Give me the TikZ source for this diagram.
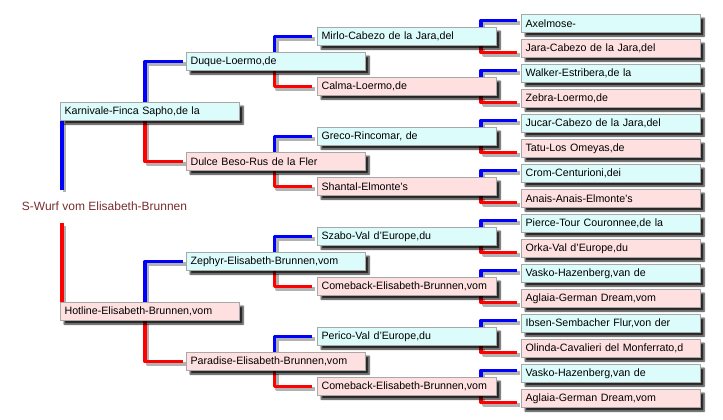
\documentclass[tikz,border=0pt]{standalone}
\usepackage{fontspec}
\setmainfont{Liberation Sans}
\usetikzlibrary{shadows.blur}
\definecolor{cy}{RGB}{220,252,252}
\definecolor{pk}{RGB}{255,224,224}
\definecolor{bd}{RGB}{168,168,168}
\definecolor{rootc}{RGB}{122,45,45}
\pgfdeclarelayer{bg}
\pgfsetlayers{bg,main}
\newcommand{\cn}[2]{\draw[sh] #2; \draw[#1] #2;}
\begin{document}
\begin{tikzpicture}[x=1pt,y=-1pt,
  box/.style={draw=bd, line width=1.2pt, anchor=north west, text width=171pt,
    inner xsep=4pt, inner ysep=0pt, minimum height=18pt, align=left,
    font=\fontsize{10.67}{12}\selectfont, text=black,
    blur shadow={shadow xshift=3.5pt, shadow yshift=-3.5pt, shadow blur steps=6,
      shadow opacity=85, shadow blur radius=1.5pt}},
  m/.style={box, fill=cy},
  f/.style={box, fill=pk},
  ln/.style={line width=3.5pt, line join=round, line cap=butt},
  bl/.style={ln, draw=blue},
  rd/.style={ln, draw=red},
  sh/.style={ln, draw=black, opacity=0.3, transform canvas={xshift=2.5pt,yshift=-2.5pt}}]
\useasboundingbox (0,0) rectangle (723,420);

% root
\node (root) [text=rootc, font=\fontsize{12}{14}\selectfont, minimum height=33pt, inner sep=0pt] at (104.5,206.5) {S-Wurf vom Elisabeth-Brunnen};

% generation 1
\node (karn) [m] at (60,102) {Karnivale-Finca Sapho,de la};
\node (hot)  [f] at (60,302) {Hotline-Elisabeth-Brunnen,vom};

% generation 2
\node (duque) [m] at (186,52)  {Duque-Loermo,de};
\node (dulce) [f] at (186,152) {Dulce Beso-Rus de la Fler};
\node (zeph)  [m] at (186,252) {Zephyr-Elisabeth-Brunnen,vom};
\node (para)  [f] at (186,352) {Paradise-Elisabeth-Brunnen,vom};

% generation 3
\node (mirlo) [m] at (317,27)  {Mirlo-Cabezo de la Jara,del};
\node (calma) [f] at (317,77)  {Calma-Loermo,de};
\node (greco) [m] at (317,127) {Greco-Rincomar, de};
\node (shan)  [f] at (317,177) {Shantal-Elmonte's};
\node (szabo) [m] at (317,227) {Szabo-Val d'Europe,du};
\node (come)  [f] at (317,277) {Comeback-Elisabeth-Brunnen,vom};
\node (peri)  [m] at (317,327) {Perico-Val d'Europe,du};
\node (comeb) [f] at (317,377) {Comeback-Elisabeth-Brunnen,vom};

% generation 4
\node (g1)  [m] at (521,14)  {Axelmose-};
\node (g2)  [f] at (521,39)  {Jara-Cabezo de la Jara,del};
\node (g3)  [m] at (521,64)  {Walker-Estribera,de la};
\node (g4)  [f] at (521,89)  {Zebra-Loermo,de};
\node (g5)  [m] at (521,114) {Jucar-Cabezo de la Jara,del};
\node (g6)  [f] at (521,139) {Tatu-Los Omeyas,de};
\node (g7)  [m] at (521,164) {Crom-Centurioni,dei};
\node (g8)  [f] at (521,189) {Anais-Anais-Elmonte's};
\node (g9)  [m] at (521,214) {Pierce-Tour Couronnee,de la};
\node (g10) [f] at (521,239) {Orka-Val d'Europe,du};
\node (g11) [m] at (521,264) {Vasko-Hazenberg,van de};
\node (g12) [f] at (521,289) {Aglaia-German Dream,vom};
\node (g13) [m] at (521,314) {Ibsen-Sembacher Flur,von der};
\node (g14) [f] at (521,339) {Olinda-Cavalieri del Monferrato,d};
\node (g15) [m] at (521,364) {Vasko-Hazenberg,van de};
\node (g16) [f] at (521,389) {Aglaia-German Dream,vom};

\begin{pgfonlayer}{bg}
% root to gen 1
\cn{bl}{([xshift=2pt]karn.south west) -- ([xshift=2pt]karn.south west |- root.north)}
\cn{rd}{([xshift=2pt]hot.north west |- root.south) -- ([xshift=2pt]hot.north west)}
% gen 1 to gen 2
\cn{bl}{([xshift=-5pt]karn.north) |- ([xshift=-3pt]duque.west)}
\cn{rd}{([xshift=-5pt]karn.south) |- ([xshift=-3pt]dulce.west)}
\cn{bl}{([xshift=-5pt]hot.north) |- ([xshift=-3pt]zeph.west)}
\cn{rd}{([xshift=-5pt]hot.south) |- ([xshift=-3pt]para.west)}
% gen 2 to gen 3
\foreach \p/\s/\d in {duque/mirlo/calma, dulce/greco/shan, zeph/szabo/come, para/peri/comeb}{
  \cn{bl}{([xshift=-1.5pt]\p.north) |- ([xshift=-5pt]\s.west)}
  \cn{rd}{([xshift=-1.5pt]\p.south) |- ([xshift=-5pt]\d.west)}
}
% gen 3 to gen 4
\foreach \p/\s/\d in {mirlo/g1/g2, calma/g3/g4, greco/g5/g6, shan/g7/g8, szabo/g9/g10, come/g11/g12, peri/g13/g14, comeb/g15/g16}{
  \cn{bl}{([xshift=-16pt]\p.north east) |- ([xshift=-4pt,yshift=3pt]\s.west)}
  \cn{rd}{([xshift=-16pt]\p.south east) |- ([xshift=-4pt,yshift=-4pt]\d.west)}
}
\end{pgfonlayer}
\end{tikzpicture}
\end{document}
